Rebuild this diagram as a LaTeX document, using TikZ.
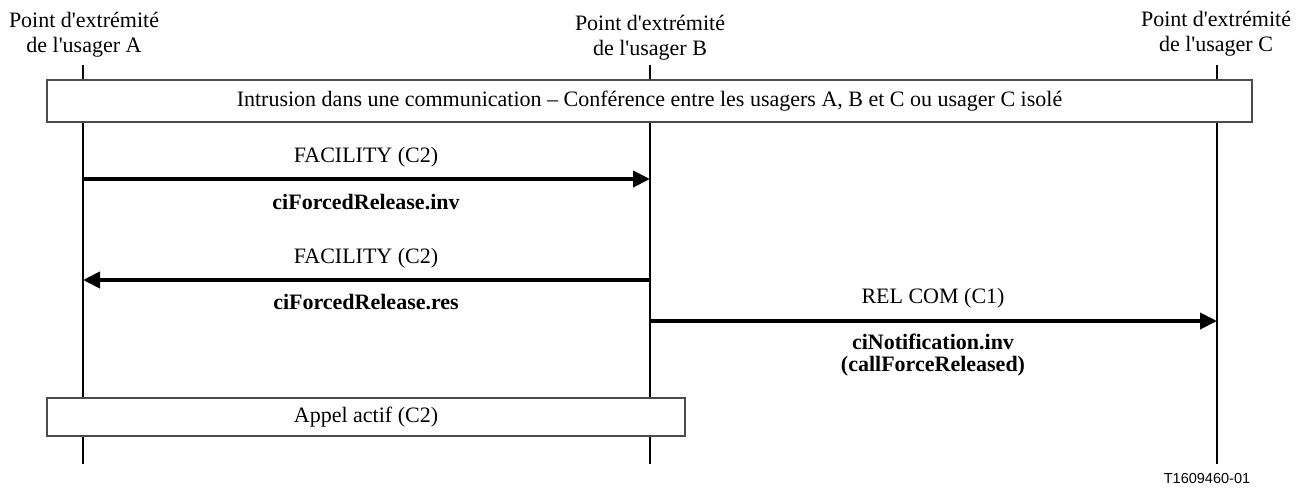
\documentclass[tikz,border=0pt]{standalone}
\usepackage{fontspec}
\newfontfamily\seriffam{Liberation Serif}
\newfontfamily\sansfam{Liberation Sans}
\usetikzlibrary{arrows.meta}
\newcommand\lblfont{\seriffam\fontsize{22}{24.5}\selectfont}
\begin{document}
\begin{tikzpicture}[x=1pt,y=-1pt,
  lifeline/.style={line width=2pt},
  msg/.style={line width=4pt,-{Triangle[length=17pt,width=16pt]}},
  band/.style={draw=black!70,line width=1.3pt,fill=white,inner sep=0pt,font=\lblfont},
  hdr/.style={inner sep=0pt,align=center,font=\lblfont,anchor=north},
  lbl/.style={inner sep=0pt,font=\lblfont,text height=15.5pt,text depth=4.5pt},
  blbl/.style={lbl,font=\lblfont\bfseries},
  fig/.style={inner sep=0pt,font=\sansfam\fontsize{14.5}{17}\selectfont}]
\useasboundingbox (0,0) rectangle (1306,488);

% endpoint headers
\node[hdr] (hA) at (84,12) {Point d'extrémité\\de l'usager A};
\node[hdr] (hB) at (650,15) {Point d'extrémité\\de l'usager B};
\node[hdr] (hC) at (1216,11) {Point d'extrémité\\de l'usager C};

% lifelines
\coordinate (Atop) at (83,65);   \coordinate (Abot) at (83,464);
\coordinate (Btop) at (650,65);  \coordinate (Bbot) at (650,464);
\coordinate (Ctop) at (1217,65); \coordinate (Cbot) at (1217,464);
\draw[lifeline] (Atop) -- (Abot);
\draw[lifeline] (Btop) -- (Bbot);
\draw[lifeline] (Ctop) -- (Cbot);

% state bands
\node[band,minimum width=1205pt,minimum height=42pt] (conf) at (649.5,101)
  {Intrusion dans une communication – Conférence entre les usagers A, B et C ou usager C isolé};
\node[band,minimum width=638pt,minimum height=38pt] (actif) at (366,417)
  {Appel actif (C2)};

% FACILITY A -> B
\coordinate (A1) at (83,179); \coordinate (B1) at (650,179);
\draw[msg] (A1) -- (B1);
\node[lbl] (m1) at (366,157) {FACILITY (C2)};
\node[blbl] (m1b) at (366,204) {ciForcedRelease.inv};

% FACILITY B -> A
\coordinate (B2) at (650,280); \coordinate (A2) at (83,280);
\draw[msg] (B2) -- (A2);
\node[lbl] (m2) at (366,258) {FACILITY (C2)};
\node[blbl] (m2b) at (366,304) {ciForcedRelease.res};

% REL COM B -> C
\coordinate (B3) at (650,321); \coordinate (C3) at (1217,321);
\draw[msg] (B3) -- (C3);
\node[lbl] (m3) at (933,298) {REL COM (C1)};
\node[blbl] (m3b) at (933,344) {ciNotification.inv};
\node[blbl] (m3c) at (933,366) {(callForceReleased)};

% figure reference
\node[fig] (ref) at (1207,478) {T1609460-01};
\end{tikzpicture}
\end{document}
